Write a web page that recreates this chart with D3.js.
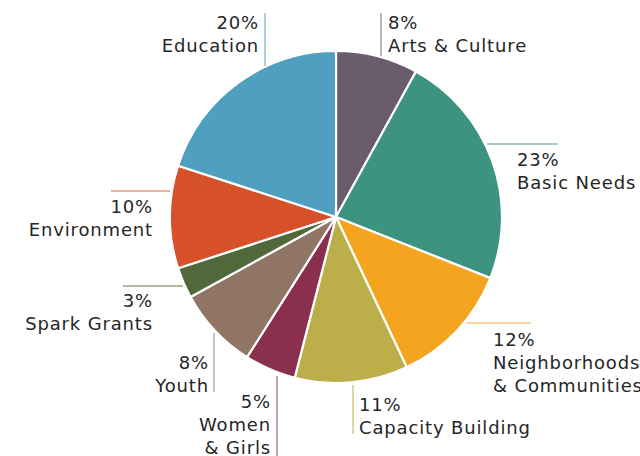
<!DOCTYPE html>
<html><head><meta charset="utf-8">
<script src="https://cdn.jsdelivr.net/npm/d3@7"></script>
<style>html,body{margin:0;padding:0;background:#fff;}svg{display:block;}</style>
</head><body>
<svg id="chart" width="640" height="456"></svg>
<script>
const categories = ["Arts & Culture","Basic Needs","Neighborhoods & Communities","Capacity Building","Women & Girls","Youth","Spark Grants","Environment","Education"];
const values = [8,23,12,11,5,8,3,10,20];
const colors = ["#6a5b6d","#3c9380","#f5a41f","#bcae48","#8b2f4f","#907565","#51693a","#d6502a","#4fa0c0"];
const lineColors = ["#887a8a","#4c9c89","#f6b040","#c4b657","#9e4d69","#a48b7e","#5f7c42","#db6440","#66acc8"];

// label layout: leader line (x1,y1,x2,y2), text anchor point, alignment, lines
const labelLayout = [
  {line:[381,13,381,56], x:388, y:29, anchor:"start"},
  {line:[487,144,558,144], x:517, y:166, anchor:"start"},
  {line:[467,323,531,323], x:493, y:346, anchor:"start", lines:["Neighborhoods","& Communities"]},
  {line:[353,385,353,434], x:359, y:411, anchor:"start"},
  {line:[277,376,277,456], x:271, y:408, anchor:"end", lines:["Women","& Girls"]},
  {line:[214,333,214,392], x:209, y:369, anchor:"end"},
  {line:[123,286,183,286], x:153, y:307, anchor:"end"},
  {line:[111,191,170,191], x:153, y:213, anchor:"end"},
  {line:[265,13,265,66], x:259, y:29, anchor:"end"}
];

const svg = d3.select("#chart");
const cx = 336, cy = 217, r = 166;
const data = categories.map((c,i)=>({cat:c, value:values[i], i}));
const pie = d3.pie().value(d=>d.value).sort(null);
const arc = d3.arc().innerRadius(0).outerRadius(r);
const color = d3.scaleOrdinal().domain(categories).range(colors);
const lcolor = d3.scaleOrdinal().domain(categories).range(lineColors);

const g = svg.append("g").attr("transform",`translate(${cx},${cy})`);
g.selectAll("path").data(pie(data)).join("path")
  .attr("d",arc)
  .attr("fill",d=>color(d.data.cat))
  .attr("stroke","#fff").attr("stroke-width",2.2).attr("stroke-linejoin","round");

const lg = svg.append("g");
data.forEach((d,i)=>{
  const L = labelLayout[i];
  lg.append("line").attr("x1",L.line[0]).attr("y1",L.line[1]).attr("x2",L.line[2]).attr("y2",L.line[3])
    .attr("stroke",lcolor(d.cat)).attr("stroke-width",1.1);
  const lines = [d.value+"%"].concat(L.lines || [d.cat]);
  const t = lg.append("text").attr("x",L.x).attr("y",L.y).attr("text-anchor",L.anchor)
    .attr("font-family","DejaVu Sans, sans-serif").attr("font-size",18).attr("letter-spacing",0.85).attr("fill","#262626");
  lines.forEach((s,k)=>{
    t.append("tspan").attr("x",L.x).attr("dy",k===0?0:23).text(s);
  });
});
</script>
</body></html>
